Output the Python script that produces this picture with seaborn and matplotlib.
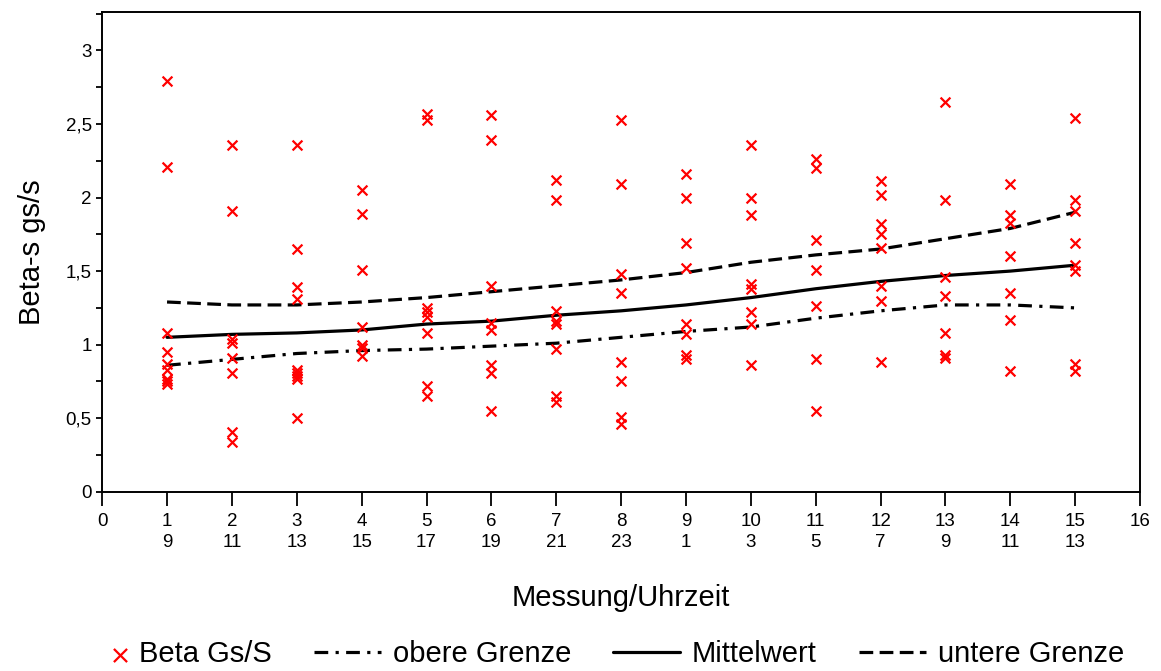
import matplotlib
matplotlib.use("Agg")
import matplotlib.pyplot as plt
from matplotlib.ticker import MultipleLocator
from matplotlib.legend_handler import HandlerPathCollection
import seaborn as sns
import pandas as pd

# Messwerte Beta Gs/S je Messung (1..15)
beta_werte = {
    1: [2.79, 2.21, 1.08, 0.95, 0.87, 0.83, 0.77, 0.75, 0.73],
    2: [2.36, 1.91, 1.04, 1.01, 0.91, 0.81, 0.41, 0.34],
    3: [2.36, 1.65, 1.39, 1.31, 0.83, 0.81, 0.79, 0.77, 0.50],
    4: [2.05, 1.89, 1.51, 1.12, 1.00, 0.98, 0.92],
    5: [2.57, 2.53, 1.25, 1.22, 1.19, 1.08, 0.72, 0.65],
    6: [2.56, 2.39, 1.40, 1.15, 1.10, 0.86, 0.81, 0.55],
    7: [2.12, 1.98, 1.23, 1.16, 1.14, 0.97, 0.65, 0.61],
    8: [2.53, 2.09, 1.48, 1.35, 0.88, 0.75, 0.51, 0.46],
    9: [2.16, 2.00, 1.69, 1.52, 1.14, 1.07, 0.93, 0.90],
    10: [2.36, 2.00, 1.88, 1.41, 1.38, 1.22, 1.14, 0.86],
    11: [2.26, 2.20, 1.71, 1.51, 1.26, 0.90, 0.55],
    12: [2.11, 2.02, 1.82, 1.75, 1.66, 1.40, 1.30, 0.88],
    13: [2.65, 1.98, 1.46, 1.33, 1.08, 0.93, 0.91],
    14: [2.09, 1.88, 1.83, 1.60, 1.35, 1.17, 0.82],
    15: [2.54, 1.98, 1.91, 1.69, 1.54, 1.50, 0.87, 0.82],
}

messung = list(range(1, 16))
mittelwert = [1.05, 1.07, 1.08, 1.10, 1.14, 1.16, 1.20, 1.23, 1.27, 1.32, 1.38, 1.43, 1.47, 1.50, 1.54]
obere_grenze = [0.86, 0.90, 0.94, 0.96, 0.97, 0.99, 1.01, 1.05, 1.09, 1.12, 1.18, 1.23, 1.27, 1.27, 1.25]
untere_grenze = [1.29, 1.27, 1.27, 1.29, 1.32, 1.36, 1.40, 1.44, 1.49, 1.56, 1.61, 1.65, 1.72, 1.79, 1.90]

uhrzeit = [9, 11, 13, 15, 17, 19, 21, 23, 1, 3, 5, 7, 9, 11, 13]
x_ticklabels = ["0"] + [f"{m}\n{u}" for m, u in zip(messung, uhrzeit)] + ["16"]
y_ticks = [0, 0.5, 1, 1.5, 2, 2.5, 3]
y_ticklabels = ["0", "0,5", "1", "1,5", "2", "2,5", "3"]

rows = [(m, v) for m, vals in beta_werte.items() for v in vals]
df = pd.DataFrame(rows, columns=["Messung", "Beta"])
lines = pd.DataFrame({"Messung": messung, "Mittelwert": mittelwert,
                      "obere": obere_grenze, "untere": untere_grenze})

sns.set_style("white")
plt.rcParams["font.family"] = ["Liberation Sans", "DejaVu Sans"]
plt.rcParams["text.color"] = "black"
plt.rcParams["axes.labelcolor"] = "black"
plt.rcParams["xtick.color"] = "black"
plt.rcParams["ytick.color"] = "black"


# Marker im Legendeneintrag rechts, direkt vor dem Text
class RechterMarker(HandlerPathCollection):
    def get_xdata(self, legend, xdescent, ydescent, width, height, fontsize):
        xdata = [-xdescent, -xdescent + width]
        return xdata, [-xdescent + width - 0.25 * fontsize]


fig = plt.figure(figsize=(11.61, 6.71), dpi=100)
ax = fig.add_axes([0.088, 0.267, 0.894, 0.715])

sc = sns.scatterplot(data=df, x="Messung", y="Beta", marker="x", color="#ff0000",
                     s=50, linewidth=1.6, ax=ax, label="Beta Gs/S", zorder=3)
sns.lineplot(data=lines, x="Messung", y="obere", color="black", lw=2.3,
             linestyle=(0, (4.3, 2.3, 1, 2.3)), ax=ax, label="obere Grenze")
sns.lineplot(data=lines, x="Messung", y="Mittelwert", color="black", lw=2.3,
             ax=ax, label="Mittelwert")
sns.lineplot(data=lines, x="Messung", y="untere", color="black", lw=2.3,
             linestyle=(0, (4.3, 2.0)), ax=ax, label="untere Grenze")

ax.set_xlim(0, 16)
ax.set_ylim(0, 3.26)
ax.set_xticks(range(0, 17))
ax.set_xticklabels(x_ticklabels, linespacing=1.3)
ax.set_yticks(y_ticks)
ax.set_yticklabels(y_ticklabels)
ax.yaxis.set_minor_locator(MultipleLocator(0.25))
ax.tick_params(axis="x", direction="out", length=10, width=1.3, labelsize=13.5,
               pad=5, bottom=True)
ax.tick_params(axis="y", which="both", direction="out", length=4, width=1.3,
               labelsize=13.5, left=True)
for sp in ax.spines.values():
    sp.set_color("black")
    sp.set_linewidth(1.4)

ax.set_xlabel("Messung/Uhrzeit", fontsize=21, labelpad=24)
ax.set_ylabel("Beta-s gs/s", fontsize=21, labelpad=14)

handles, labels = ax.get_legend_handles_labels()
ax.get_legend().remove()
fig.legend(handles, labels, loc="lower center", bbox_to_anchor=(0.51, -0.035),
           ncol=4, frameon=False, fontsize=21, handlelength=2.3,
           columnspacing=1.45, handletextpad=0.4,
           handler_map={handles[0]: RechterMarker(sizes=[90])})

fig.savefig("out.png", dpi=100)
